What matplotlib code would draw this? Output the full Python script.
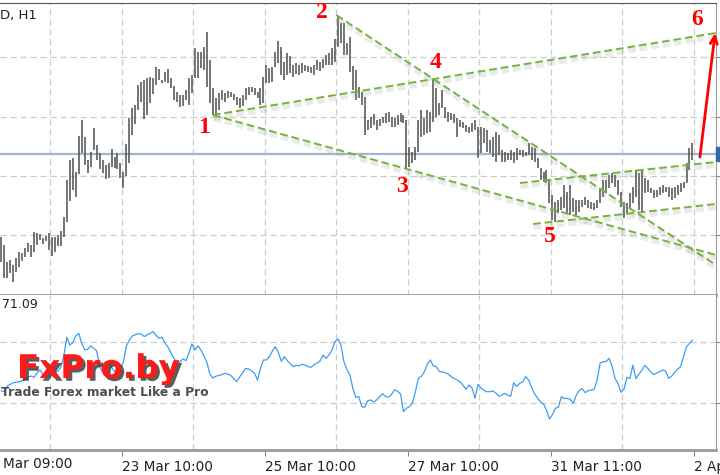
import numpy as np
import matplotlib
matplotlib.use('Agg')
import matplotlib.pyplot as plt
import matplotlib.patheffects as pe
from matplotlib.patches import Rectangle

W, H = 720, 475

# H1 bars, high / low in points (1e-4)
high = np.array([
    10820, 10812, 10795, 10797, 10792, 10799, 10805, 10804, 10809, 10814,
    10812, 10825, 10824, 10823, 10819, 10821, 10824, 10820, 10820, 10822,
    10826, 10840, 10877, 10897, 10899, 10885, 10921, 10937, 10920, 10897,
    10905, 10929, 10912, 10904, 10897, 10892, 10894, 10908, 10900, 10904,
    10894, 10885, 10913, 10939, 10949, 10952, 10972, 10975, 10977, 10979,
    10980, 10979, 10990, 10988, 10977, 10985, 10988, 10979, 10971, 10965,
    10962, 10962, 10967, 10979, 10982, 11009, 11005, 11005, 11010, 11025,
    10997, 10969, 10959, 10964, 10967, 10964, 10966, 10965, 10963, 10960,
    10959, 10962, 10969, 10970, 10970, 10969, 10965, 10969, 10980, 10992,
    10989, 10990, 11005, 11016, 11010, 10995, 11004, 11001, 10992, 10994,
    10992, 10994, 10992, 10991, 10990, 10992, 10997, 10995, 10998, 11002,
    11004, 11009, 11018, 11041, 11034, 11034, 11014, 11020, 10991, 10987,
    10970, 10965, 10960, 10937, 10940, 10943, 10937, 10938, 10940, 10944,
    10945, 10940, 10939, 10942, 10944, 10942, 10937, 10910, 10905, 10910,
    10937, 10947, 10939, 10947, 10945, 10978, 10969, 10954, 10967, 10950,
    10945, 10944, 10943, 10939, 10937, 10935, 10932, 10930, 10934, 10937,
    10930, 10930, 10929, 10927, 10917, 10920, 10925, 10922, 10907, 10905,
    10904, 10907, 10905, 10909, 10907, 10907, 10905, 10914, 10910, 10909,
    10899, 10889, 10885, 10887, 10877, 10862, 10855, 10857, 10860, 10872,
    10865, 10872, 10859, 10857, 10857, 10857, 10860, 10857, 10855, 10854,
    10857, 10869, 10877, 10877, 10882, 10884, 10882, 10877, 10865, 10855,
    10854, 10864, 10870, 10887, 10884, 10887, 10879, 10877, 10869, 10867,
    10867, 10870, 10872, 10870, 10870, 10869, 10870, 10872, 10874, 10875,
    10894, 10909, 10914]) / 1e4
low = np.array([
    10795, 10779, 10779, 10784, 10775, 10785, 10790, 10796, 10800, 10805,
    10800, 10805, 10812, 10817, 10813, 10816, 10807, 10801, 10805, 10811,
    10811, 10820, 10835, 10856, 10867, 10860, 10883, 10904, 10892, 10884,
    10890, 10907, 10897, 10888, 10884, 10878, 10879, 10890, 10889, 10888,
    10879, 10869, 10881, 10894, 10922, 10933, 10947, 10955, 10938, 10942,
    10954, 10963, 10972, 10977, 10974, 10975, 10974, 10969, 10957, 10955,
    10950, 10951, 10957, 10952, 10964, 10979, 10979, 10989, 10987, 10970,
    10954, 10942, 10942, 10947, 10957, 10955, 10959, 10960, 10957, 10952,
    10949, 10951, 10957, 10962, 10965, 10962, 10959, 10952, 10954, 10974,
    10974, 10975, 10990, 10994, 10982, 10977, 10982, 10984, 10980, 10983,
    10982, 10984, 10986, 10985, 10984, 10982, 10987, 10986, 10989, 10992,
    10992, 10992, 10995, 11010, 11014, 11002, 11002, 10985, 10967, 10957,
    10959, 10952, 10922, 10927, 10929, 10932, 10927, 10931, 10934, 10934,
    10935, 10930, 10930, 10932, 10935, 10934, 10889, 10890, 10894, 10897,
    10905, 10920, 10922, 10924, 10925, 10935, 10940, 10942, 10949, 10939,
    10935, 10937, 10934, 10920, 10930, 10929, 10925, 10924, 10925, 10927,
    10899, 10904, 10914, 10905, 10904, 10900, 10895, 10902, 10895, 10895,
    10897, 10897, 10894, 10897, 10902, 10900, 10901, 10902, 10897, 10895,
    10889, 10877, 10875, 10874, 10854, 10837, 10835, 10844, 10847, 10849,
    10844, 10842, 10845, 10842, 10845, 10850, 10852, 10849, 10848, 10847,
    10849, 10854, 10860, 10864, 10869, 10874, 10870, 10862, 10850, 10839,
    10844, 10849, 10854, 10860, 10847, 10844, 10864, 10865, 10864, 10859,
    10860, 10862, 10864, 10865, 10860, 10857, 10859, 10862, 10865, 10869,
    10874, 10887, 10897]) / 1e4

rsi = [
    37.9, 37.7, 41.1, 42.2, 43.3, 43.6, 44.0, 44.6, 45.7, 47.0,
    47.7, 46.8, 49.7, 51.6, 48.6, 47.3, 49.9, 51.2, 50.3, 50.8,
    53.4, 61.3, 73.1, 68.0, 69.6, 73.9, 75.7, 69.1, 64.8, 65.2,
    67.4, 65.8, 64.3, 53.8, 50.5, 54.3, 56.4, 53.4, 50.5, 52.3,
    52.7, 57.1, 67.4, 71.3, 73.9, 74.8, 75.5, 75.2, 73.5, 74.8,
    75.7, 76.8, 74.2, 72.4, 73.1, 69.1, 66.5, 62.6, 59.3, 56.0,
    57.1, 58.9, 57.8, 63.0, 68.7, 64.8, 67.4, 64.8, 60.8, 56.7,
    49.0, 46.4, 47.5, 48.1, 48.6, 49.5, 49.0, 48.1, 46.0, 44.0,
    47.0, 49.9, 52.7, 52.3, 51.0, 49.5, 45.1, 52.7, 58.2, 58.2,
    60.4, 64.1, 66.9, 63.0, 57.3, 60.4, 57.8, 55.8, 53.8, 54.9,
    54.3, 55.4, 54.9, 53.8, 53.4, 55.1, 56.2, 57.5, 61.5, 59.3,
    61.5, 64.8, 70.2, 72.0, 68.0, 57.1, 52.1, 48.4, 39.6, 33.7,
    34.2, 27.6, 27.2, 31.5, 32.0, 30.7, 32.0, 34.2, 36.1, 34.2,
    33.9, 35.7, 38.7, 37.7, 35.9, 24.3, 26.6, 27.6, 30.2, 37.4,
    46.2, 47.5, 50.5, 55.6, 58.2, 54.3, 53.8, 50.8, 50.3, 49.9,
    49.0, 47.3, 46.0, 45.1, 43.8, 41.6, 39.0, 41.8, 39.8, 33.1,
    42.2, 39.8, 38.3, 37.4, 37.4, 37.9, 36.6, 34.4, 35.2, 36.3,
    35.2, 34.4, 43.3, 40.9, 42.9, 43.8, 47.3, 45.1, 40.1, 36.1,
    33.3, 30.7, 29.3, 25.4, 19.5, 22.4, 26.5, 27.4, 34.2, 32.9,
    33.1, 32.4, 29.8, 35.2, 38.3, 39.4, 36.8, 38.1, 38.5, 39.0,
    45.1, 56.2, 57.1, 57.1, 59.3, 54.3, 46.0, 42.9, 37.0, 39.0,
    46.8, 46.0, 54.9, 46.0, 48.8, 51.6, 54.7, 52.7, 50.3, 48.6,
    49.7, 50.5, 51.6, 51.0, 46.2, 47.5, 50.1, 52.1, 53.8, 60.4,
    66.9, 69.1, 71.1]
idx = np.arange(len(high))

grid_idx = np.arange(16.5, 240, 24)
date_idx = [40.5, 88.5, 136.5, 184.5, 232.5]
date_lbl = ['23 Mar 10:00', '25 Mar 10:00', '27 Mar 10:00', '31 Mar 11:00', '2 Apr']
first_lbl = 'Mar 09:00'   # left part of this label is cut off in the screenshot
price_levels = [1.1000, 1.0940, 1.0881, 1.0822]
rsi_levels = [30, 70]
bid = 1.0903
rsi_last = '71.09'

# trend lines (bar, price) -> (bar, price)
lines = [(71, 1.0942, 239.9, 1.1024),
         (71, 1.0942, 239.9, 1.0802),
         (112.4, 1.1042, 239.9, 1.0792),
         (174.1, 1.0874, 239.9, 1.0895),
         (178.5, 1.0833, 239.9, 1.0853)]
marks = ['1', '2', '3', '4', '5', '6']
mark_i = [68.1, 107.7, 134.5, 145.9, 184.2, 233.5]
mark_p = [1.0929, 1.1044, 1.0870, 1.0994, 1.0820, 1.1037]
arrow = (234.5, 1.0900, 239.6, 1.1024)

xmin, xmax = -0.44, 239.9

fig = plt.figure(figsize=(W / 100, H / 100), dpi=100)
ax = fig.add_axes([0, 1 - 295 / H, 716 / W, 292 / H])
ax2 = fig.add_axes([0, 1 - 450 / H, 716 / W, 155 / H])

grid_kw = dict(color='#cccccc', lw=0.9, dashes=(5, 3))

# main panel
ax.vlines(idx, low, high, color='#555555', lw=1.15, zorder=3)
ax.axhline(bid, color='#9fb6cd', lw=1.6, zorder=2)
shadow = [pe.SimpleLineShadow(offset=(0.5, -2.5), shadow_color='#999999', alpha=0.2, linewidth=3.5), pe.Normal()]
for i0, p0, i1, p1 in lines:
    ax.plot([i0, i1], [p0, p1], color='#74b23b', lw=1.4, dashes=(4, 2), path_effects=shadow, zorder=4)
for m, i, p in zip(marks, mark_i, mark_p):
    ax.text(i, p, m, color='#ff0000', fontsize=17, fontweight='bold', family='Liberation Serif',
            ha='center', va='center', zorder=5)
ax.annotate('', xy=(arrow[2], arrow[3]), xytext=(arrow[0], arrow[1]), annotation_clip=False,
            arrowprops=dict(arrowstyle='->,head_length=0.55,head_width=0.25', color='#ff0000', lw=2,
                            shrinkA=0, shrinkB=0), zorder=5)

ax.set_xlim(xmin, xmax)
ax.set_ylim(1.0762, 1.1054)
ax.set_yticks(price_levels)
ax.set_xticks([])
ax.set_xticks(grid_idx, minor=True)
ax.yaxis.tick_right()
ax.tick_params(axis='y', length=4, color='#888888', labelright=False)
ax.tick_params(axis='x', which='both', length=0, labelbottom=False)
ax.grid(axis='y', which='major', **grid_kw)
ax.grid(axis='x', which='minor', **grid_kw)
ax.set_axisbelow(True)
ax.spines['left'].set_visible(False)
ax.spines['top'].set_color('#555555')
ax.spines['right'].set_color('#999999')
ax.spines['bottom'].set_color('#999999')
ax.spines['bottom'].set_linewidth(2)
ax.text(0.0, 1 - 12 / 292, 'D, H1', transform=ax.transAxes, fontsize=9.5, color='#222222',
        ha='left', va='center')

# indicator panel
ax2.plot(idx, rsi, color='#3d9df5', lw=0.9)
ax2.set_xlim(xmin, xmax)
ax2.set_ylim(-0.8, 100.8)
ax2.set_yticks(rsi_levels)
ax2.yaxis.tick_right()
ax2.tick_params(axis='y', length=4, color='#888888', labelright=False)
ax2.set_xticks(date_idx)
ax2.set_xticklabels(date_lbl, fontsize=9.8, color='#222222')
for t in ax2.get_xticklabels():
    t.set_ha('left')
ax2.set_xticks(grid_idx, minor=True)
ax2.tick_params(axis='x', which='major', length=4, pad=3, color='#888888')
ax2.tick_params(axis='x', which='minor', length=0)
ax2.grid(axis='y', which='major', **grid_kw)
ax2.grid(axis='x', which='minor', **grid_kw)
ax2.set_axisbelow(True)
ax2.spines['left'].set_visible(False)
ax2.spines['top'].set_visible(False)
ax2.spines['right'].set_color('#999999')
ax2.spines['bottom'].set_color('#999999')
ax2.spines['bottom'].set_linewidth(2)
ax2.annotate(first_lbl, xy=(3 / 716, 0), xycoords='axes fraction', xytext=(0, -5),
             textcoords='offset points', ha='left', va='top', fontsize=9.8, color='#222222')
ax2.text(0.003, 1 - 9 / 155, rsi_last, transform=ax2.transAxes, fontsize=9, color='#222222',
         ha='left', va='center')

# current price marker on the right edge
fig.add_artist(Rectangle((716 / W, 1 - 161 / H), 4 / W, 14 / H, transform=fig.transFigure,
                         color='#2f6aa6'))

# watermark
fig.text(17 / W, 1 - 378 / H, 'FxPro.by', fontsize=23.5, fontweight='bold', color='#ff1a1a',
         va='baseline', path_effects=[pe.SimplePatchShadow(offset=(2, -2), shadow_rgbFace='#333333', alpha=0.8),
                                      pe.Normal()])
fig.text(1 / W, 1 - 396 / H, 'Trade Forex market Like a Pro', fontsize=8.8, fontweight='bold',
         color='#4d4d4d', va='baseline')

fig.savefig('out.png', dpi=100)
